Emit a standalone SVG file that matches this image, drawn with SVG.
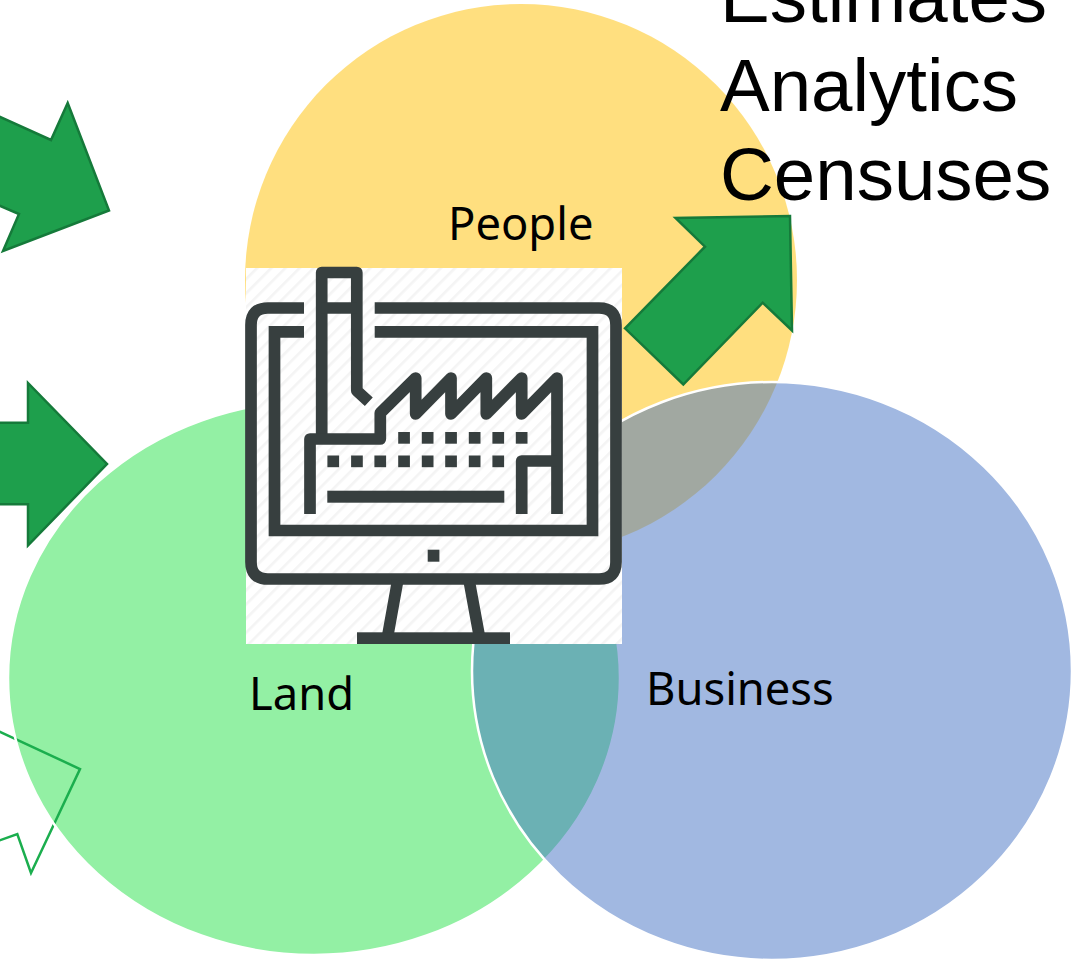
<svg xmlns="http://www.w3.org/2000/svg" width="1076" height="966" viewBox="0 0 1076 966">
<style>
.arrow{fill:#1e9f4c;stroke:#157a3a;stroke-width:2.5;stroke-linejoin:miter}
.ln{fill:none;stroke:#373f3f;stroke-width:11.7;stroke-linejoin:round}
.sq{fill:#373f3f}
.big{font-family:"Liberation Sans",Arial,sans-serif;font-size:74.5px;fill:#000}
.lbl{font-family:"Noto Sans",sans-serif;font-size:45.3px;fill:#000}
</style>
<defs>
<pattern id="hatch" width="10" height="10" patternUnits="userSpaceOnUse" patternTransform="rotate(-45)">
<rect width="10" height="10" fill="#fff"/>
<rect width="10" height="2.6" fill="#f4f4f4"/>
</pattern>
</defs>
<rect width="1076" height="966" fill="#fff"/>
<g id="people"><ellipse cx="521" cy="280" rx="276" ry="276" fill="#ffc000" fill-opacity=".5"/></g>
<g id="land"><ellipse cx="314" cy="678" rx="306" ry="277" fill="#93f0a4"/></g>
<g id="connectors">
<path id="arrow-top" class="arrow" d="M-2 116L51 140L67.7 103L109 210.5L3 251L19 214L-2 205Z"/>
<path id="arrow-mid" class="arrow" d="M-2 422.7H28V383L107 464L28 545.5V504.3H-2Z"/>
<path id="arrow-low" d="M-2 731L80 769L31 873L17.3 834L-2 841" fill="none" stroke="#1bae4e" stroke-width="2.5"/>
</g>
<ellipse cx="314" cy="678" rx="306" ry="277" fill="none" stroke="#fff" stroke-width="2.5"/>
<g id="business"><ellipse cx="772" cy="671" rx="300" ry="289" fill="#4472c4" fill-opacity=".5" stroke="#fff" stroke-width="2.5"/></g>
<path id="arrow-right" class="arrow" d="M625 328.3L705 246.7L675.5 218L790 216L792 330.5L762.7 302.7L683.3 384.5Z"/>
<g id="icon">
<rect x="246" y="268" width="376" height="376" fill="url(#hatch)"/>
<path class="ln" d="M304 308H268Q251 308 251 325V562Q251 579 268 579H599Q616 579 616 562V325Q616 308 599 308H374.7"/>
<path class="ln" d="M304 331.8H274.5V530.5H592.5V331.8H374.7" style="stroke-linejoin:miter"/>
<path class="ln" d="M321.7 439V272.5H356.8V390.7L368.8 401.8"/>
<path class="ln" d="M321.7 308H356.8"/>
<path class="ln" d="M310 514V439H380.3V413L415.7 378V414L451 378V414L486.3 378V414L521.7 378V414L557 378V514"/>
<path class="ln" d="M521.7 514V461H557"/>
<path class="ln" d="M397.8 580L387.7 636M469 580L479.3 636" style="stroke-linejoin:miter"/>
<rect class="sq" x="357" y="632.3" width="153" height="11.7"/>
<rect class="sq" x="327.3" y="490.7" width="177" height="12"/>
<rect class="sq" x="427.7" y="549.7" width="11.7" height="12"/>
<g class="sq">
<rect x="398.2" y="432" width="11.7" height="11.7"/><rect x="421.8" y="432" width="11.7" height="11.7"/><rect x="445.2" y="432" width="11.7" height="11.7"/><rect x="468.8" y="432" width="11.7" height="11.7"/><rect x="492.4" y="432" width="11.7" height="11.7"/><rect x="515.8" y="432" width="11.7" height="11.7"/>
<rect x="327.4" y="455.5" width="11.7" height="11.7"/><rect x="351.1" y="455.5" width="11.7" height="11.7"/><rect x="374.4" y="455.5" width="11.7" height="11.7"/><rect x="398.2" y="455.5" width="11.7" height="11.7"/><rect x="421.8" y="455.5" width="11.7" height="11.7"/><rect x="445.2" y="455.5" width="11.7" height="11.7"/><rect x="468.8" y="455.5" width="11.7" height="11.7"/><rect x="492.4" y="455.5" width="11.7" height="11.7"/>
</g>
</g>
<g id="labels">
<text class="lbl" x="448" y="240">People</text>
<text class="lbl" x="249" y="710">Land</text>
<text class="lbl" x="646" y="705">Business</text>
<text class="big" x="720" y="22">Estimates</text>
<text class="big" x="720" y="111">Analytics</text>
<text class="big" x="720" y="200">Censuses</text>
</g>
</svg>
